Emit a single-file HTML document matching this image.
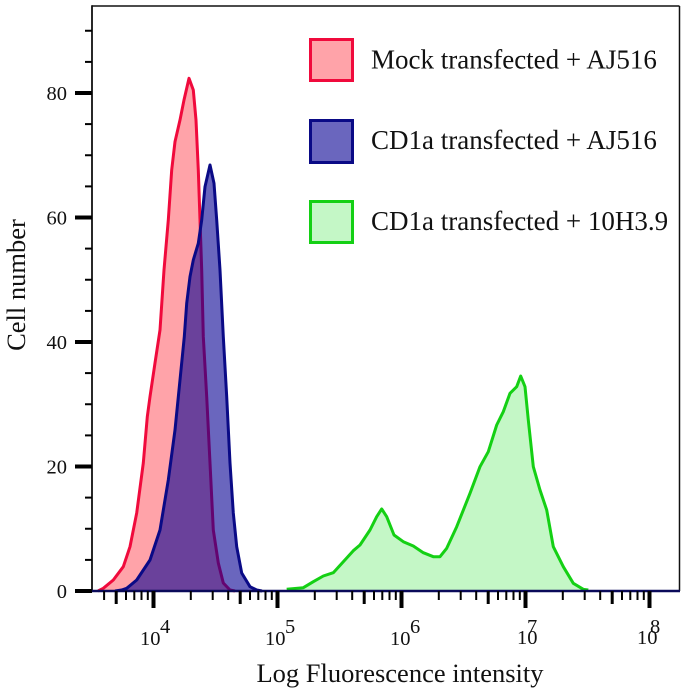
<!DOCTYPE html>
<html>
<head>
<meta charset="utf-8">
<style>
  html, body { margin:0; padding:0; background:#ffffff; }
  svg { display:block; }
  text { font-family: "Liberation Serif", "Times New Roman", serif; fill:#111; }
</style>
</head>
<body>
<svg width="691" height="693" viewBox="0 0 691 693" xmlns="http://www.w3.org/2000/svg">
  <rect x="0" y="0" width="691" height="693" fill="#ffffff"/>

  <!-- Green series -->
  <path d="M286.7,591 L286.7,589.3 L303.3,587.7 L313.3,581.7 L323.3,576 L333.3,572.7 L343.3,561.7 L353.3,550.7 L360,545 L370,530 L376.7,516.7 L381.7,509 L386.7,516.7 L394,535 L403.3,541.7 L413.3,546 L423.3,552.7 L433.3,556.7 L440,556.7 L446.7,548.3 L456.7,526.7 L470,493.3 L480,466.7 L488.3,451.7 L496.7,425 L503.3,411.7 L510,393.3 L516.7,386.7 L520.7,376 L525,386.7 L528.3,420 L533.3,466.7 L540,490 L546.7,510 L553.3,546.7 L563.3,566.7 L573.3,583.3 L583.3,589.3 L588.3,590 L590,591 Z" fill="#c4f7c6" stroke="none"/>
  <polyline points="286.7,589.3 303.3,587.7 313.3,581.7 323.3,576 333.3,572.7 343.3,561.7 353.3,550.7 360,545 370,530 376.7,516.7 381.7,509 386.7,516.7 394,535 403.3,541.7 413.3,546 423.3,552.7 433.3,556.7 440,556.7 446.7,548.3 456.7,526.7 470,493.3 480,466.7 488.3,451.7 496.7,425 503.3,411.7 510,393.3 516.7,386.7 520.7,376 525,386.7 528.3,420 533.3,466.7 540,490 546.7,510 553.3,546.7 563.3,566.7 573.3,583.3 583.3,589.3 588.3,590" fill="none" stroke="#14d014" stroke-width="3" stroke-linejoin="round"/>

  <!-- Red series -->
  <path d="M98,591 L103.3,588.3 L113.3,580 L123.3,566.7 L130,546.7 L136.7,513 L143.3,463 L147.3,416.7 L150,396.7 L155,363 L160,330 L164,270 L168.3,220 L171.7,170 L175,141.7 L180,120 L184,100 L189,78.3 L193.3,90 L196,120 L198.3,170 L200,220 L201.7,270 L203.3,336.7 L206.7,396.7 L210,463 L213.3,530 L218.3,563 L223.3,583 L230,590 L235,591 Z" fill="#ffa3a9" stroke="none"/>
  <polyline points="98,591 103.3,588.3 113.3,580 123.3,566.7 130,546.7 136.7,513 143.3,463 147.3,416.7 150,396.7 155,363 160,330 164,270 168.3,220 171.7,170 175,141.7 180,120 184,100 189,78.3 193.3,90 196,120 198.3,170 200,220 201.7,270 203.3,336.7 206.7,396.7 210,463 213.3,530 218.3,563 223.3,583 230,590 235,591" fill="none" stroke="#f00a3c" stroke-width="3" stroke-linejoin="round"/>

  <!-- Blue series -->
  <path d="M115,591 L121.7,590 L126.7,588.3 L136.7,580 L150,560 L160,530 L168.3,480 L175,430 L180,380 L184.3,336.7 L186.7,303.3 L190,276.7 L193.3,260 L198.3,243.3 L201.7,220 L205,186.7 L210,165 L214,183.3 L216.7,220 L220,270 L223.3,336.7 L226.7,396.7 L230,463 L233.3,513 L236.7,546.7 L241.7,573 L250,586.7 L256.7,590 L262,591 Z" fill="#070093" fill-opacity="0.6" stroke="none"/>
  <polyline points="115,591 121.7,590 126.7,588.3 136.7,580 150,560 160,530 168.3,480 175,430 180,380 184.3,336.7 186.7,303.3 190,276.7 193.3,260 198.3,243.3 201.7,220 205,186.7 210,165 214,183.3 216.7,220 220,270 223.3,336.7 226.7,396.7 230,463 233.3,513 236.7,546.7 241.7,573 250,586.7 256.7,590 262,591" fill="none" stroke="#0a0a86" stroke-width="3" stroke-linejoin="round"/>

  <!-- Frame -->
  <line x1="92" y1="6" x2="679.5" y2="6" stroke="#111" stroke-width="1.5"/>
  <line x1="679.5" y1="6" x2="679.5" y2="591" stroke="#111" stroke-width="1.5"/>
  <line x1="92" y1="5.3" x2="92" y2="592" stroke="#111" stroke-width="1.8"/>
  <line x1="92" y1="591" x2="680" y2="591" stroke="#0a0a5a" stroke-width="2.5"/>

  <!-- Y ticks -->
  <g stroke="#000">
    <line x1="75" y1="591" x2="92" y2="591" stroke-width="4"/>
    <line x1="85" y1="559.9" x2="92" y2="559.9" stroke-width="2"/>
    <line x1="85" y1="528.75" x2="92" y2="528.75" stroke-width="2"/>
    <line x1="85" y1="497.6" x2="92" y2="497.6" stroke-width="2"/>
    <line x1="75" y1="466.5" x2="92" y2="466.5" stroke-width="4"/>
    <line x1="85" y1="435.4" x2="92" y2="435.4" stroke-width="2"/>
    <line x1="85" y1="404.25" x2="92" y2="404.25" stroke-width="2"/>
    <line x1="85" y1="373.1" x2="92" y2="373.1" stroke-width="2"/>
    <line x1="75" y1="342" x2="92" y2="342" stroke-width="4"/>
    <line x1="85" y1="310.9" x2="92" y2="310.9" stroke-width="2"/>
    <line x1="85" y1="279.75" x2="92" y2="279.75" stroke-width="2"/>
    <line x1="85" y1="248.6" x2="92" y2="248.6" stroke-width="2"/>
    <line x1="75" y1="217.5" x2="92" y2="217.5" stroke-width="4"/>
    <line x1="85" y1="186.4" x2="92" y2="186.4" stroke-width="2"/>
    <line x1="85" y1="155.25" x2="92" y2="155.25" stroke-width="2"/>
    <line x1="85" y1="124.1" x2="92" y2="124.1" stroke-width="2"/>
    <line x1="75" y1="93" x2="92" y2="93" stroke-width="4"/>
    <line x1="85" y1="61.9" x2="92" y2="61.9" stroke-width="2"/>
    <line x1="85" y1="30.75" x2="92" y2="30.75" stroke-width="2"/>
  </g>

  <!-- Y labels -->
  <g font-size="20.5" text-anchor="end">
    <text x="67" y="598">0</text>
    <text x="67" y="473.5">20</text>
    <text x="67" y="349">40</text>
    <text x="67" y="224.5">60</text>
    <text x="67" y="100">80</text>
  </g>

  <!-- X ticks -->
  <g stroke="#000" stroke-width="2">
    <!-- decade 3 -->
    <line x1="104.1" y1="591" x2="104.1" y2="600"/>
    <line x1="116.2" y1="591" x2="116.2" y2="604" stroke-width="3"/>
    <line x1="126" y1="591" x2="126" y2="600"/>
    <line x1="134.3" y1="591" x2="134.3" y2="600"/>
    <line x1="141.5" y1="591" x2="141.5" y2="600"/>
    <line x1="147.8" y1="591" x2="147.8" y2="600"/>
    <line x1="153.5" y1="591" x2="153.5" y2="608" stroke-width="4"/>
    <!-- decade 4 -->
    <line x1="190.8" y1="591" x2="190.8" y2="600"/>
    <line x1="212.7" y1="591" x2="212.7" y2="600"/>
    <line x1="228.2" y1="591" x2="228.2" y2="600"/>
    <line x1="240.2" y1="591" x2="240.2" y2="604" stroke-width="3"/>
    <line x1="250" y1="591" x2="250" y2="600"/>
    <line x1="258.3" y1="591" x2="258.3" y2="600"/>
    <line x1="265.5" y1="591" x2="265.5" y2="600"/>
    <line x1="271.8" y1="591" x2="271.8" y2="600"/>
    <line x1="277.5" y1="591" x2="277.5" y2="608" stroke-width="4"/>
    <!-- decade 5 -->
    <line x1="314.8" y1="591" x2="314.8" y2="600"/>
    <line x1="336.7" y1="591" x2="336.7" y2="600"/>
    <line x1="352.2" y1="591" x2="352.2" y2="600"/>
    <line x1="364.2" y1="591" x2="364.2" y2="604" stroke-width="3"/>
    <line x1="374" y1="591" x2="374" y2="600"/>
    <line x1="382.3" y1="591" x2="382.3" y2="600"/>
    <line x1="389.5" y1="591" x2="389.5" y2="600"/>
    <line x1="395.8" y1="591" x2="395.8" y2="600"/>
    <line x1="401.5" y1="591" x2="401.5" y2="608" stroke-width="4"/>
    <!-- decade 6 -->
    <line x1="438.8" y1="591" x2="438.8" y2="600"/>
    <line x1="460.7" y1="591" x2="460.7" y2="600"/>
    <line x1="476.2" y1="591" x2="476.2" y2="600"/>
    <line x1="488.2" y1="591" x2="488.2" y2="604" stroke-width="3"/>
    <line x1="498" y1="591" x2="498" y2="600"/>
    <line x1="506.3" y1="591" x2="506.3" y2="600"/>
    <line x1="513.5" y1="591" x2="513.5" y2="600"/>
    <line x1="519.8" y1="591" x2="519.8" y2="600"/>
    <line x1="525.5" y1="591" x2="525.5" y2="608" stroke-width="4"/>
    <!-- decade 7 -->
    <line x1="562.8" y1="591" x2="562.8" y2="600"/>
    <line x1="584.7" y1="591" x2="584.7" y2="600"/>
    <line x1="600.2" y1="591" x2="600.2" y2="600"/>
    <line x1="612.2" y1="591" x2="612.2" y2="604" stroke-width="3"/>
    <line x1="622" y1="591" x2="622" y2="600"/>
    <line x1="630.3" y1="591" x2="630.3" y2="600"/>
    <line x1="637.5" y1="591" x2="637.5" y2="600"/>
    <line x1="643.8" y1="591" x2="643.8" y2="600"/>
    <line x1="649.5" y1="591" x2="649.5" y2="608" stroke-width="4"/>
  </g>

  <!-- X labels -->
  <g font-size="20.5">
    <text x="140" y="645">10</text><text x="160" y="633">4</text>
    <text x="265" y="645">10</text><text x="285" y="633">5</text>
    <text x="390" y="645">10</text><text x="410" y="633">6</text>
    <text x="517" y="644">10</text><text x="527" y="633">7</text>
    <text x="637" y="644">10</text><text x="650" y="633">8</text>
  </g>

  <!-- Axis titles -->
  <text x="400" y="682" font-size="26.5" text-anchor="middle">Log Fluorescence intensity</text>
  <text transform="translate(25,285) rotate(-90)" font-size="26.5" text-anchor="middle">Cell number</text>

  <!-- Legend -->
  <rect x="310.5" y="39.5" width="42" height="41" fill="#ffa3a9" stroke="#f00a3c" stroke-width="3"/>
  <rect x="310.5" y="120.5" width="42" height="42" fill="#6a66be" stroke="#0a0a86" stroke-width="3"/>
  <rect x="310.5" y="201.5" width="42" height="41" fill="#c4f7c6" stroke="#14d014" stroke-width="3"/>
  <g font-size="27">
    <text x="371" y="68.5">Mock transfected + AJ516</text>
    <text x="371" y="149">CD1a transfected + AJ516</text>
    <text x="371" y="230">CD1a transfected + 10H3.9</text>
  </g>
</svg>
</body>
</html>
